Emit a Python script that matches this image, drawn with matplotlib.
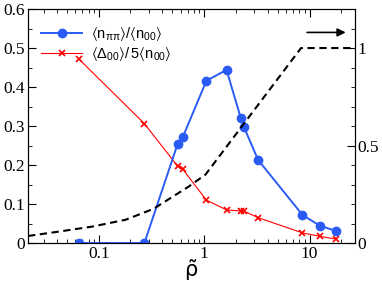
import matplotlib
matplotlib.use("Agg")
import matplotlib.pyplot as plt
from matplotlib.ticker import MultipleLocator, FixedLocator, FuncFormatter, LogLocator, NullFormatter

# donnees
rho = [0.0652, 0.271, 0.56, 0.628, 1.05, 1.63, 2.23, 2.38, 3.25, 8.57, 12.6, 17.9]
n_pipi = [0.0, 0.0, 0.254, 0.272, 0.416, 0.444, 0.320, 0.298, 0.213, 0.072, 0.044, 0.031]
delta = [0.471, 0.306, 0.197, 0.189, 0.110, 0.085, 0.082, 0.082, 0.065, 0.026, 0.017, 0.010]

# courbe en tirets (axe de droite)
rho_d = [0.0213, 0.0411, 0.0861, 0.179, 0.330, 0.711, 1.03, 8.3, 27.0]
val_d = [0.036, 0.058, 0.084, 0.119, 0.175, 0.289, 0.351, 1.0, 1.0]

serif = "Liberation Serif"
sans = "Liberation Sans"
plt.rcParams["mathtext.default"] = "regular"

fig = plt.figure(figsize=(3.82, 2.83), dpi=100)
ax = fig.add_axes([0.0733, 0.1413, 0.856, 0.8268])
ax2 = ax.twinx()

blue = "#2a5cf5"
ax.plot(rho, n_pipi, "-o", color=blue, lw=1.4, ms=6,
        label=r"$\langle n_{\pi\pi}\rangle / \langle n_{00}\rangle$", zorder=3)
ax.plot(rho, delta, "-x", color="#ff0000", lw=0.8, ms=4.5, mew=1.2,
        label=r"$\langle \Delta_{00}\rangle / \, 5\langle n_{00}\rangle$", zorder=2)
ax2.plot(rho_d, val_d, "--", color="black", lw=1.5, dashes=(3.5, 2.2))

ax.set_xscale("log")
ax.set_xlim(0.0213, 27)
ax.set_ylim(0, 0.6)
ax2.set_ylim(0, 1.2)

ax.yaxis.set_major_locator(MultipleLocator(0.1))
ax.yaxis.set_minor_locator(MultipleLocator(0.05))
ax.yaxis.set_major_formatter(FuncFormatter(lambda v, p: "0" if abs(v) < 1e-9 else f"{v:.1f}"))
ax2.yaxis.set_major_locator(FixedLocator([0, 0.5, 1.0]))
ax2.yaxis.set_minor_locator(MultipleLocator(0.1))
ax2.yaxis.set_major_formatter(FuncFormatter(lambda v, p: {0: "0", 0.5: "0.5", 1.0: "1"}.get(round(v, 1), "")))

ax.xaxis.set_major_locator(LogLocator(base=10))
ax.xaxis.set_minor_locator(LogLocator(base=10, subs=range(2, 10)))
ax.xaxis.set_minor_formatter(NullFormatter())
ax.xaxis.set_major_formatter(FuncFormatter(lambda v, p: f"{v:g}"))

ax.tick_params(which="both", direction="in", top=True, right=False)
ax.tick_params(which="major", length=6, labelsize=12.5, pad=2)
ax.tick_params(which="minor", length=3)
ax2.tick_params(which="both", direction="in")
ax2.tick_params(which="major", length=6, labelsize=12.5, pad=2)
ax2.tick_params(which="minor", length=3)
for a in (ax, ax2):
    for lab in a.get_xticklabels() + a.get_yticklabels():
        lab.set_fontfamily(serif)

ax.set_xlabel(r"$\tilde{\rho}$", fontsize=15, labelpad=-3)

leg = ax.legend(loc="upper left", frameon=False, prop={"family": sans, "size": 10.5},
                bbox_to_anchor=(0.01, 0.975), handlelength=2.8, handletextpad=0.6,
                borderaxespad=0.3, labelspacing=0.15)

ax.annotate("", xy=(0.98, 0.90), xytext=(0.845, 0.90), xycoords="axes fraction",
            arrowprops=dict(arrowstyle="-|>", color="black", lw=1.2, mutation_scale=12))

fig.savefig("out.png", dpi=100)
